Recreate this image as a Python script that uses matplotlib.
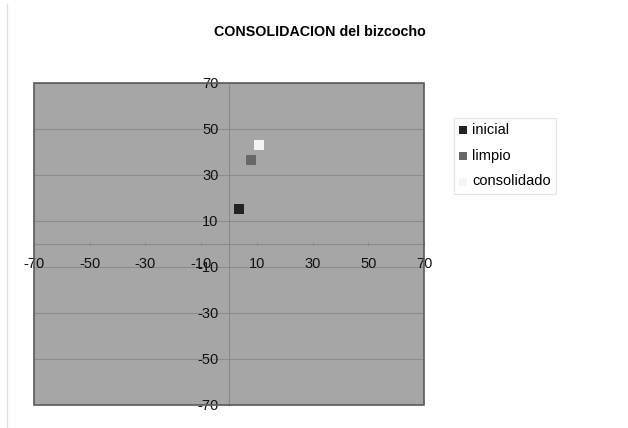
import matplotlib
matplotlib.use("Agg")
import matplotlib.pyplot as plt
from matplotlib.patches import Rectangle

plt.rcParams['font.family'] = ['Liberation Sans', 'DejaVu Sans']

series = ["inicial", "limpio", "consolidado"]
x_vals = [3.5, 7.8, 10.7]
y_vals = [15.1, 36.7, 42.9]
colors = ["#232323", "#676767", "#f4f4f4"]
ticks = [-70, -50, -30, -10, 10, 30, 50, 70]
title = "CONSOLIDACION del bizcocho"

fig = plt.figure(figsize=(6.28, 4.28), dpi=100)
ax = fig.add_axes([34/628, 1-405/428, 390/628, 322/428])
ax.set_facecolor("#a6a6a6")
ax.set_xlim(-70, 70)
ax.set_ylim(-70, 70)

for t in ticks:
    ax.axhline(t, color="#8c8c8c", lw=0.8, zorder=1)

for name, x, y, c in zip(series, x_vals, y_vals, colors):
    ax.scatter([x], [y], marker="s", s=42, color=c, label=name, zorder=3, linewidths=0)

for s in ["top", "right"]:
    ax.spines[s].set_visible(False)
ax.spines["left"].set_position(("data", 0))
ax.spines["bottom"].set_position(("data", 0))
ax.spines["left"].set_color("#8a8a8a")
ax.spines["bottom"].set_color("#8a8a8a")
ax.spines["left"].set_linewidth(0.8)
ax.spines["bottom"].set_linewidth(0.8)
ax.set_xticks(ticks)
ax.set_yticks(ticks)
ax.set_xticklabels([str(t) for t in ticks])
ax.set_yticklabels([str(t) for t in ticks])
ax.tick_params(axis="both", length=3, width=0.6, color="#8a8a8a", labelsize=10.5, labelcolor="#111111", direction="inout")
ax.tick_params(axis="x", pad=8)
ax.tick_params(axis="y", pad=6)

ax.add_patch(Rectangle((0, 0), 1, 1, transform=ax.transAxes, fill=False,
                       edgecolor="#5a5a5a", lw=1.2, zorder=5, clip_on=False))

fig.text(320/628, 1-32/428, title, ha="center", va="center", fontsize=10.3, fontweight="bold")

leg = fig.legend(loc="upper left", bbox_to_anchor=(454/628, 1-118/428), frameon=True,
                 fontsize=10.5, handlelength=0.6, handletextpad=0.3, labelspacing=0.8,
                 borderpad=0.35, borderaxespad=0.0, markerscale=0.9)
leg.get_frame().set_edgecolor("#dddddd")
leg.get_frame().set_linewidth(0.8)
leg.get_frame().set_boxstyle("square", pad=0)

fig.add_artist(plt.Line2D([7/628, 7/628], [0, 1-4/428], transform=fig.transFigure,
                          color="#e0e0e0", lw=1))

fig.savefig("out.png", dpi=100)
